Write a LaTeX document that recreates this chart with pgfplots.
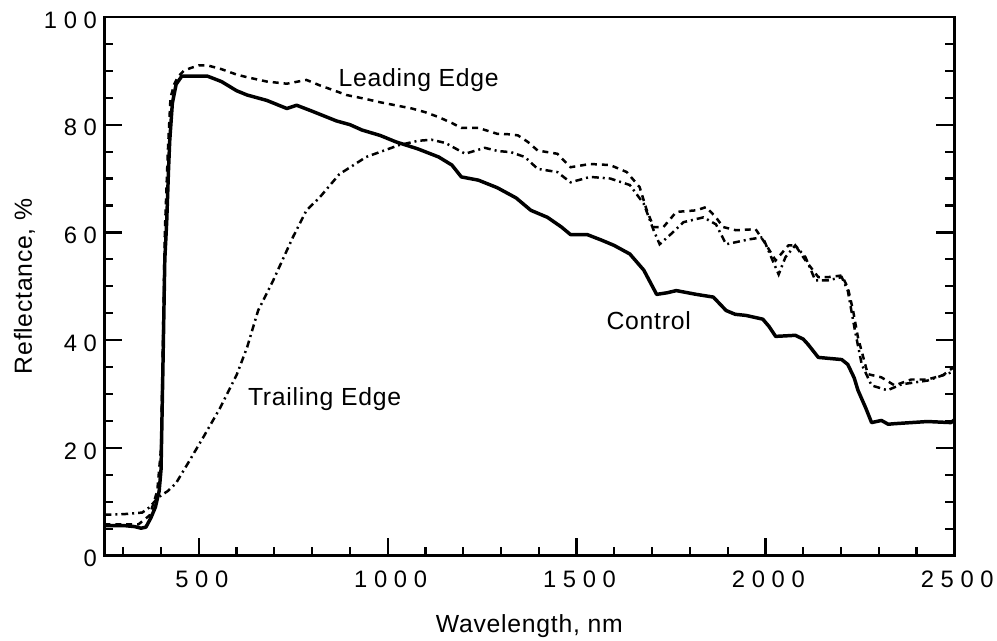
\documentclass[border=0pt]{standalone}
\usepackage{fontspec}
\setmainfont{Liberation Sans}
\newfontfamily\tickfont[LetterSpace=28]{Liberation Sans}
\newfontfamily\labfont[LetterSpace=3]{Liberation Sans}
\usepackage{pgfplots}
\pgfplotsset{compat=1.18}
\begin{document}
\begin{tikzpicture}
\begin{axis}[
  name=main,
  scale only axis, width=855bp, height=542bp,
  xmin=250, xmax=2500, ymin=0, ymax=100,
  separate axis lines,
  every outer x axis line/.append style={line width=2.8bp, line cap=rect},
  every outer y axis line/.append style={line width=2.8bp, line cap=rect},
  xtick={500,1000,1500,2000,2500},
  minor xtick={300,400,600,700,800,900,1100,1200,1300,1400,1600,1700,1800,1900,2100,2200,2300,2400},
  ytick={0,20,40,60,80,100},
  minor ytick={5,10,15,25,30,35,45,50,55,65,70,75,85,90,95},
  xtick pos=left, ytick pos=both,
  tick align=inside,
  major tick length=18bp, minor tick length=9bp,
  every tick/.style={line width=2.2bp, black},
  /pgf/number format/1000 sep={},
  /pgf/number format/assume math mode=true,
  tick label style={font=\tickfont\fontsize{24}{28}\selectfont},
  xticklabel style={yshift=-12bp, xshift=3bp},
  yticklabel style={xshift=-4bp, yshift=-3bp},
  label style={font=\labfont\fontsize{25}{30}\selectfont},
  xlabel={Wavelength, nm}, ylabel={Reflectance, \%},
  xlabel style={yshift=-20bp},
  ylabel style={yshift=2bp},
]
% Control
\addplot[black, line width=3.5bp, line join=round] coordinates {
(250,5.6)(300,5.6)(330,5.4)(347,5.1)(360,5.3)(373,7)(385,9)(395,12)(400,16)(405,35)(410,55)(415,62)(420,72)(423,77)(430,84)(440,87.5)(455,89)(480,89)(523,89)(560,88)(600,86.3)(628,85.5)(680,84.5)(733,83)(759,83.6)(800,82.5)(864,80.7)(900,80)(932,79)(980,78)(1022,76.8)(1080,75.5)(1135,74)(1170,72.5)(1195,70.3)(1240,69.7)(1290,68.3)(1340,66.4)(1379,64.1)(1423,62.8)(1460,61)(1484,59.6)(1528,59.6)(1565,58.6)(1599,57.6)(1641,56)(1678,53)(1712,48.5)(1740,48.8)(1764,49.2)(1817,48.5)(1862,48)(1896,45.5)(1920,44.8)(1948,44.6)(1993,43.9)(2010,42.5)(2027,40.7)(2079,40.9)(2100,40.2)(2113,39.2)(2140,36.8)(2202,36.4)(2218,35.5)(2235,33)(2245,30.7)(2265,27.5)(2281,24.7)(2307,25.1)(2325,24.4)(2342,24.5)(2429,24.9)(2491,24.7)(2500,25.2)
};
% Leading edge
\addplot[black, line width=2.5bp, dash pattern=on 6bp off 5bp] coordinates {
(250,5.8)(340,5.8)(370,7.5)(390,12)(400,20)(405,40)(410,60)(418,75)(425,85)(435,87.5)(444,88.8)(460,90)(478,90.5)(500,91)(523,91)(560,90.3)(600,89.3)(628,88.8)(680,88)(733,87.6)(785,88.3)(820,87.3)(860,86.3)(891,85.5)(940,84.8)(977,84.2)(1020,83.6)(1064,83)(1100,82.3)(1135,81.4)(1170,80.3)(1195,79.4)(1240,79.4)(1290,78.3)(1326,78.2)(1345,78)(1371,76.8)(1397,75.2)(1449,74.6)(1484,72.1)(1536,72.7)(1589,72.5)(1633,71.2)(1667,68.4)(1686,64.1)(1704,61)(1730,61)(1764,63.8)(1817,64.1)(1843,64.7)(1869,62.8)(1888,61)(1922,60.4)(1974,60.6)(2001,57.8)(2027,54.8)(2061,57.6)(2079,57.6)(2106,54.8)(2140,51.7)(2166,51.7)(2202,52)(2218,49.8)(2232,45.5)(2245,40.5)(2271,33.7)(2307,33.1)(2342,31.6)(2386,32.7)(2429,32.7)(2470,33.5)(2491,34.6)(2500,35)
};
% Trailing edge
\addplot[black, line width=2.5bp, dash pattern=on 7bp off 4bp on 2bp off 4bp] coordinates {
(250,7.6)(300,7.7)(350,8)(370,9)(392,10.8)(418,12)(440,13.5)(470,17)(512,22)(557,27.5)(601,33.7)(628,38.7)(657,45.5)(697,51.1)(749,59.1)(785,64.1)(820,66.5)(872,70.8)(943,74)(1030,76.2)(1080,77)(1116,77.2)(1153,76.6)(1205,74.6)(1257,75.7)(1292,75.1)(1326,74.9)(1363,74)(1397,71.8)(1449,71.2)(1484,69.3)(1536,70.3)(1589,70)(1641,68.8)(1678,65.3)(1704,60.4)(1720,57.8)(1747,59.5)(1783,61.9)(1836,62.8)(1869,61.5)(1896,57.8)(1956,58.7)(1993,59.1)(2019,54.8)(2035,52.2)(2053,55.4)(2079,57.6)(2106,55.4)(2132,51.1)(2166,51.1)(2202,51.7)(2218,49.2)(2237,41.8)(2255,35.5)(2281,31.6)(2323,30.7)(2360,31.8)(2429,32.5)(2491,34)(2500,34.2)
};
\node[font=\labfont\fontsize{25}{30}\selectfont] at (axis cs:1082,88.3) {Leading Edge};
\node[font=\labfont\fontsize{25}{30}\selectfont] at (axis cs:833,29) {Trailing Edge};
\node[font=\labfont\fontsize{25}{30}\selectfont] at (axis cs:1691,43.6) {Control};
\end{axis}
\path (main.north east) -- ++(37bp,17bp);
\path (main.north west) -- ++(-105bp,17bp);
\end{tikzpicture}
\end{document}
